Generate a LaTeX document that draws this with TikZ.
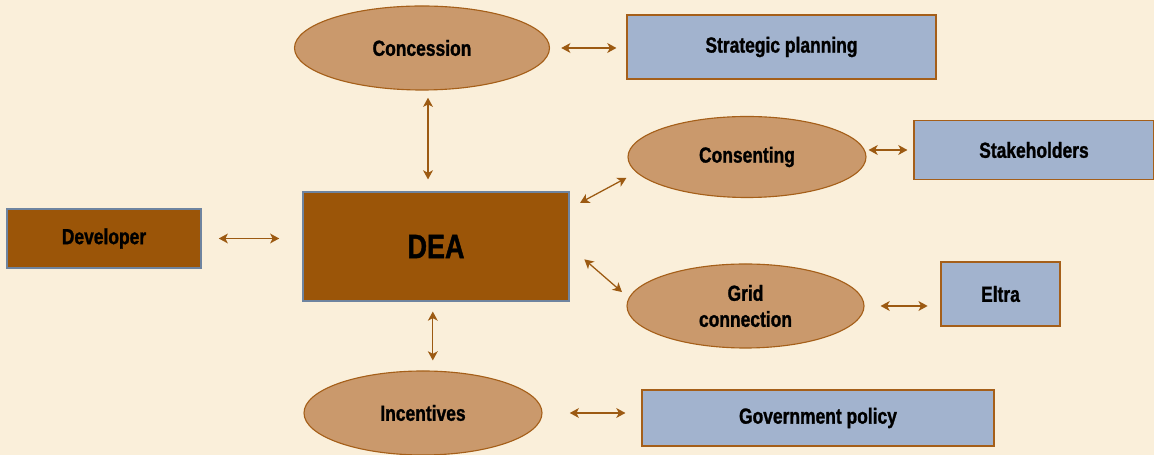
\documentclass[tikz,border=0pt]{standalone}
\usepackage{fontspec}
\setmainfont{Liberation Sans}[FakeStretch=0.8, BoldFeatures={FakeBold=1.2}]
\usetikzlibrary{shapes.geometric, arrows.meta}
\definecolor{cream}{RGB}{250,239,218}
\definecolor{tan}{RGB}{202,153,108}
\definecolor{tanline}{RGB}{165,95,25}
\definecolor{dearust}{RGB}{155,85,8}
\definecolor{slate}{RGB}{162,179,206}
\definecolor{slateline}{RGB}{110,132,160}
\definecolor{arrowbrown}{RGB}{156,90,18}

\begin{document}
\begin{tikzpicture}[
  oval/.style={ellipse, draw=tanline, fill=tan, line width=0.8pt, inner sep=0pt, align=center},
  bluebox/.style={rectangle, draw=tanline, fill=slate, line width=0.8pt, inner sep=0pt},
  rustbox/.style={rectangle, draw=slateline, fill=dearust, line width=0.8pt, inner sep=0pt},
  lbl/.style={font=\bfseries\fontsize{15.5}{18.5}\selectfont},
  link/.style={draw=arrowbrown, line width=0.9pt, {Stealth[length=6.5pt,width=7pt,inset=1.8pt]}-{Stealth[length=6.5pt,width=7pt,inset=1.8pt]}}]
\fill[cream] (0,0) rectangle (28.85,11.375);
\useasboundingbox (0,0) rectangle (28.85,11.375);
% ovals
\node[oval, lbl, minimum width=6.375cm, minimum height=2.1cm] (conc) at (10.55,10.175) {Concession};
\node[oval, lbl, minimum width=5.95cm, minimum height=2.025cm] (cons) at (18.675,7.45) {Consenting};
\node[oval, lbl, minimum width=5.925cm, minimum height=2.1cm] (grid) at (18.6375,3.725) {Grid\\connection};
\node[oval, lbl, minimum width=5.95cm, minimum height=2.1cm] (inc) at (10.575,1.05) {Incentives};
% boxes
\node[bluebox, lbl, minimum width=7.725cm, minimum height=1.6cm] (strat) at (19.5375,10.2) {Strategic planning};
\node[bluebox, lbl, minimum width=6cm, minimum height=1.475cm] (stake) at (25.85,7.625) {Stakeholders};
\node[bluebox, lbl, minimum width=2.975cm, minimum height=1.6cm] (eltra) at (25.0125,4.025) {Eltra};
\node[bluebox, lbl, minimum width=8.8cm, minimum height=1.4cm] (gov) at (20.45,0.925) {Government policy};
\node[rustbox, lbl, minimum width=4.85cm, minimum height=1.475cm] (dev) at (2.6,5.4125) {Developer};
\node[rustbox, font=\bfseries\fontsize{24}{28}\selectfont, minimum width=6.65cm, minimum height=2.725cm] (dea) at (10.9,5.2125) {DEA};
% links
\draw[link, shorten <=0.28cm, shorten >=0.25cm] (conc.east) -- (conc.east -| strat.west);
\draw[link, shorten <=0.18cm, shorten >=0.3cm] ([xshift=0.15cm]conc.south) -- ([xshift=0.15cm]conc.south |- dea.north);
\draw[link, shorten <=0.43cm, shorten >=0.58cm] (dev.east) -- (dev.east -| dea.west);
\draw[link, shorten <=0.3cm, shorten >=0.28cm] ([yshift=-0.425cm]dea.north east) -- (cons.188);
\draw[link, shorten <=0.49cm, shorten >=0.22cm] (dea.east) -- (grid.176);
\draw[link, shorten <=0.25cm, shorten >=0.25cm] ([xshift=-0.08cm]dea.south) -- ([xshift=-0.08cm]dea.south |- inc.north);
\draw[link, shorten <=0.05cm, shorten >=0.15cm] (stake.west -| cons.east) -- (stake.west);
\draw[link, shorten <=0.4cm, shorten >=0.32cm] (grid.east) -- (grid.east -| eltra.west);
\draw[link, shorten <=0.68cm, shorten >=0.4cm] (inc.east) -- (inc.east -| gov.west);
\end{tikzpicture}
\end{document}
